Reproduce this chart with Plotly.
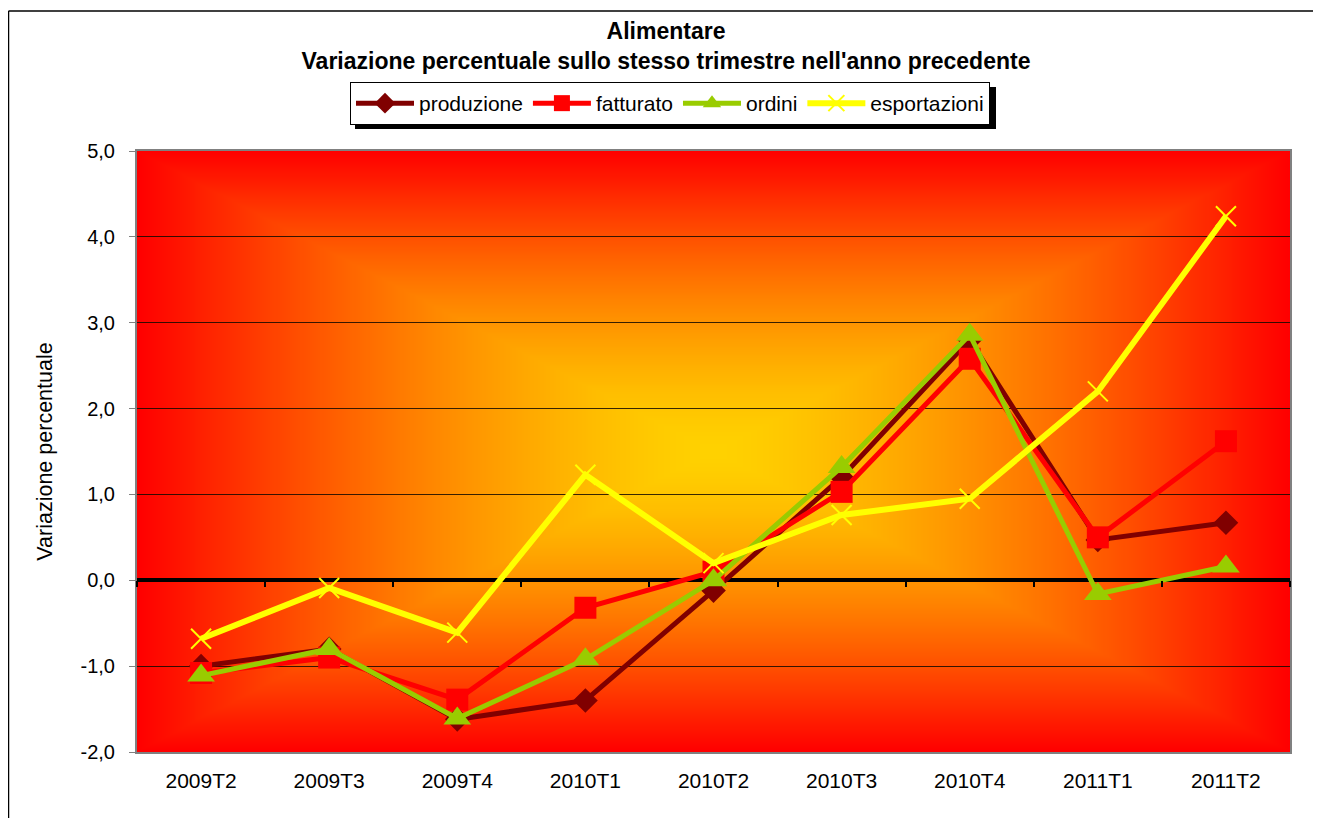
import base64, struct, zlib
import numpy as np
import plotly.graph_objects as go

categories = ['2009T2', '2009T3', '2009T4', '2010T1', '2010T2', '2010T3', '2010T4', '2011T1', '2011T2']
produzione = [-1.0, -0.8, -1.62, -1.4, -0.12, 1.2, 2.8, 0.47, 0.67]
fatturato = [-1.08, -0.9, -1.39, -0.32, 0.1, 1.03, 2.58, 0.5, 1.62]
ordini = [-1.11, -0.8, -1.61, -0.92, 0.0, 1.32, 2.86, -0.16, 0.16]
esportazioni = [-0.68, -0.09, -0.61, 1.23, 0.2, 0.76, 0.95, 2.2, 4.24]

y_ticks = [-2, -1, 0, 1, 2, 3, 4, 5]
y_ticktext = ['-2,0', '-1,0', '0,0', '1,0', '2,0', '3,0', '4,0', '5,0']
FONT = "Liberation Sans, Arial, sans-serif"

OFF = 8                      # page body margin of the rendered html
W, H = 1321 - OFF, 818 - OFF
SL, SR, ST, SB = 137, 1290, 151, 752   # plot area in screen pixels
L, T = SL - OFF, ST - OFF
R, B = W - (SR - OFF), H - (SB - OFF)
PW, PH = SR - SL, SB - ST


def px(sx):
    return (sx - SL) / PW


def py(sy):
    return (SB - sy) / PH


# ---- rectangular "from centre" gradient background (yellow -> orange -> red)
def gradient_png(w, h):
    xs = np.abs(np.linspace(-1, 1, w))
    ys = np.abs(np.linspace(-1, 1, h))
    t = np.maximum(xs[None, :], ys[:, None])
    g = 210 * (1 - t ** 1.45)
    img = np.zeros((h, w, 3), dtype=np.uint8)
    img[..., 0] = 255
    img[..., 1] = np.clip(g, 0, 255).astype(np.uint8)
    img[..., 2] = 0
    raw = b''.join(b'\x00' + img[i].tobytes() for i in range(h))

    def chunk(tag, data):
        c = tag + data
        return struct.pack('>I', len(data)) + c + struct.pack('>I', zlib.crc32(c) & 0xffffffff)

    png = b'\x89PNG\r\n\x1a\n'
    png += chunk(b'IHDR', struct.pack('>IIBBBBB', w, h, 8, 2, 0, 0, 0))
    png += chunk(b'IDAT', zlib.compress(raw, 9))
    png += chunk(b'IEND', b'')
    return 'data:image/png;base64,' + base64.b64encode(png).decode()


bg_src = gradient_png(PW // 2, PH // 2)

fig = go.Figure()

series = [
    ('produzione', produzione, dict(color='#800000', width=5),
     dict(symbol='diamond', size=19, color='#800000')),
    ('fatturato', fatturato, dict(color='#FF0000', width=5),
     dict(symbol='square', size=22, color='#FF0000')),
    ('ordini', ordini, dict(color='#99CC00', width=5),
     dict(symbol='triangle-up', size=24, color='#99CC00')),
    ('esportazioni', esportazioni, dict(color='#FFFF00', width=6),
     dict(symbol='x-thin', size=20, color='#FFFF00', line=dict(color='#FFFF00', width=2))),
]
for name, vals, line, marker in series:
    fig.add_trace(go.Scatter(x=categories, y=vals, name=name, mode='lines+markers',
                             line=line, marker=marker, cliponaxis=False))

# helper axis carrying the category-boundary tick marks on the zero line
fig.add_trace(go.Scatter(x=[-0.5, 8.5], y=[0, 0], xaxis='x2', yaxis='y', mode='lines',
                         line=dict(width=0, color='rgba(0,0,0,0)'), showlegend=False,
                         hoverinfo='skip'))

fig.update_layout(
    width=W, height=H,
    margin=dict(l=L, r=R, t=T, b=B, autoexpand=False),
    paper_bgcolor='white',
    plot_bgcolor='rgba(0,0,0,0)',
    font=dict(family=FONT, size=20, color='black'),
    title=dict(text='<b>Alimentare<br>Variazione percentuale sullo stesso trimestre nell\'anno precedente</b>',
               x=(666 - OFF) / W, xanchor='center', xref='container', y=1 - 31 / H, yanchor='top',
               font=dict(family=FONT, size=23, color='black')),
    legend=dict(orientation='h', x=px(350), y=py(82), xanchor='left', yanchor='top',
                bgcolor='white', bordercolor='black', borderwidth=1,
                font=dict(family=FONT, size=21), itemwidth=58, tracegroupgap=0),
    xaxis=dict(type='category', range=[-0.5, 8.5], showgrid=False, zeroline=False,
               showline=True, linecolor='#808080', linewidth=2, mirror=True, ticks='',
               ticklabelstandoff=9, tickfont=dict(family=FONT, size=21)),
    xaxis2=dict(overlaying='x', anchor='free', position=2 / 7, side='bottom', range=[-0.5, 8.5],
                tickmode='array', tickvals=[i - 0.5 for i in range(len(categories) + 1)],
                ticks='outside', ticklen=6, tickwidth=2, tickcolor='black',
                showticklabels=False, showgrid=False, zeroline=False, showline=False),
    yaxis=dict(range=[-2, 5], tickmode='array', tickvals=y_ticks, ticktext=y_ticktext,
               showgrid=True, gridcolor='rgba(20,10,0,0.85)', gridwidth=1,
               zeroline=True, zerolinecolor='black', zerolinewidth=4,
               showline=True, linecolor='#808080', linewidth=2, mirror=True,
               ticks='outside', ticklen=6, tickcolor='#808080', ticklabelstandoff=10,
               tickfont=dict(family=FONT, size=20),
               title=dict(text='Variazione percentuale', standoff=22,
                          font=dict(family=FONT, size=21.5))),
    images=[dict(source=bg_src, xref='paper', yref='paper', x=0, y=1, sizex=1, sizey=1,
                 sizing='stretch', xanchor='left', yanchor='top', layer='below')],
    shapes=[
        # legend shadow
        dict(type='rect', xref='paper', yref='paper', layer='below',
             x0=px(355), x1=px(996), y0=py(129), y1=py(87),
             fillcolor='black', line=dict(width=0)),
        # outer chart frame (top and left edges)
        dict(type='line', xref='paper', yref='paper', x0=px(8.5), x1=px(1330),
             y0=py(11), y1=py(11), line=dict(color='black', width=1.5)),
        dict(type='line', xref='paper', yref='paper', x0=px(8.5), x1=px(8.5),
             y0=py(11), y1=py(830), line=dict(color='black', width=1.5)),
    ],
    showlegend=True,
)

fig.write_html('out.html')
